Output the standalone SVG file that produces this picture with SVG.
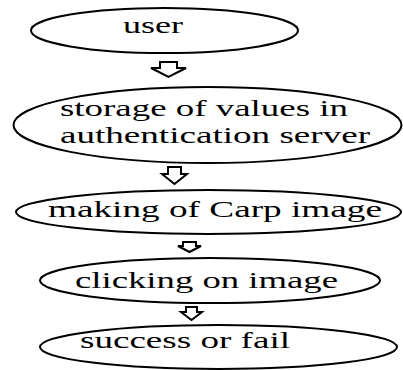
<svg xmlns="http://www.w3.org/2000/svg" width="403" height="370" viewBox="0 0 403 370">
<style>
.node ellipse{fill:#fff;stroke:#000;stroke-width:2}
.node text{font-family:'Liberation Serif','Times New Roman','DejaVu Serif',serif;font-size:24px;fill:#000}
.arrow{fill:#fff;stroke:#000;stroke-width:2;stroke-linejoin:miter}
</style>
<rect width="403" height="370" fill="#fff"/>
<g id="connectors">
<path class="arrow" d="M160,62 H177 V68 H186 L168.5,77 L151,68 H160 Z"/>
<path class="arrow" d="M168,167 H181 V174 H187 L174.5,184 L162,174 H168 Z"/>
<path class="arrow" d="M183,242 H196 V246 H201 L189.5,252 L178,246 H183 Z"/>
<path class="arrow" d="M186,307 H197 V312 H202 L191.5,320 L181,312 H186 Z"/>
</g>
<g id="node-user" class="node">
<ellipse cx="164.5" cy="30.5" rx="133.5" ry="22.5"/>
<text x="123" y="33" font-family="Liberation Serif, serif" textLength="60" lengthAdjust="spacingAndGlyphs">user</text>
</g>
<g id="node-storage" class="node">
<ellipse cx="207.5" cy="125" rx="194" ry="38"/>
<text x="60" y="116" font-family="Liberation Serif, serif" textLength="288" lengthAdjust="spacingAndGlyphs">storage of values in</text>
<text x="60" y="143" font-family="Liberation Serif, serif" textLength="310" lengthAdjust="spacingAndGlyphs">authentication server</text>
</g>
<g id="node-making" class="node">
<ellipse cx="208.5" cy="212" rx="192.5" ry="22"/>
<text x="48" y="217" font-family="Liberation Serif, serif" textLength="334" lengthAdjust="spacingAndGlyphs">making of Carp image</text>
</g>
<g id="node-clicking" class="node">
<ellipse cx="210" cy="280.5" rx="170" ry="22.5"/>
<text x="75" y="288" font-family="Liberation Serif, serif" textLength="263" lengthAdjust="spacingAndGlyphs">clicking on image</text>
</g>
<g id="node-result" class="node">
<ellipse cx="218.5" cy="347" rx="178.5" ry="22"/>
<text x="80" y="348" font-family="Liberation Serif, serif" textLength="210" lengthAdjust="spacingAndGlyphs">success or fail</text>
</g>
</svg>
